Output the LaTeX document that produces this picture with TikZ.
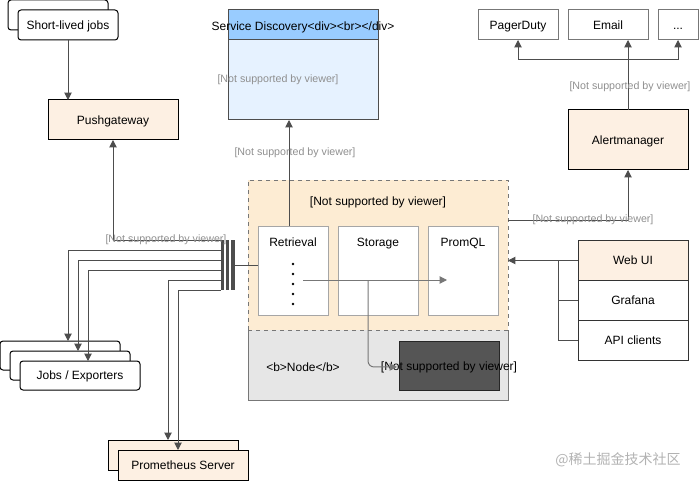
\documentclass[tikz,border=0pt]{standalone}
\usepackage{fontspec}
\setmainfont{Liberation Sans}
\newfontfamily\cjkfont{Noto Sans CJK SC}
\usepackage{tikz}
\usetikzlibrary{arrows.meta,positioning,calc}

\definecolor{peachfill}{HTML}{FDF0E3}
\definecolor{contfill}{HTML}{FDECD3}
\definecolor{nodefill}{HTML}{E6E6E6}
\definecolor{darkfill}{HTML}{555555}
\definecolor{sdhead}{HTML}{99CCFF}
\definecolor{sdbody}{HTML}{E6F2FF}
\definecolor{linegray}{HTML}{4D4D4D}
\definecolor{boxgray}{HTML}{777777}
\definecolor{innergray}{HTML}{A6A6A6}
\definecolor{textgray}{HTML}{8F8F8F}

\begin{document}
\begin{tikzpicture}[
			x=0.75pt, y=-0.75pt,
			every node/.style={inner sep=0pt, outer sep=0pt, font=\fontsize{9}{11}\selectfont},
			boxsize/.style 2 args={minimum width=#1*0.75pt, minimum height=#2*0.75pt},
			box/.style={draw=boxgray, fill=white, line width=0.75pt, text height=7pt, text depth=0.6pt},
			rbox/.style={box, draw=black, rounded corners=2.25pt},
			warm/.style={box, draw=black, fill=peachfill},
			inner/.style={box, draw=innergray, boxsize={#1}{89}},
			barnode/.style={fill=linegray, boxsize={3.5}{50}},
			lbl/.style={text=textgray, font=\fontsize{8}{10}\selectfont},
			arr/.style={draw=linegray, line width=0.75pt, -{Triangle[width=5.5pt,length=5.5pt]}},
			garr/.style={draw=boxgray, line width=0.75pt, -{Triangle[width=5.5pt,length=5.5pt]}}
		]

		\useasboundingbox (0,0) rectangle (699,481);

		\node[rbox, boxsize={100}{30}] (slj1) at (58,15) {};
		\node[rbox, boxsize={100}{30}] (slj2) at (68,25) {Short-lived jobs};
		\node[warm, boxsize={130}{40}] (push) at (113,120) {Pushgateway};

		\node[box, draw=linegray, fill=sdbody, boxsize={150}{110}] (sd) at (303,65) {};
		\node[box, draw=linegray, fill=sdhead, boxsize={150}{30}, anchor=north] (sdtop) at (sd.north) {};
		\node (sdtitle) at ($(sdtop)+(0,2)$) {Service Discovery<div><br></div>};
		\node[lbl] (sdlbl) at ($(sd.center)+(-25,15)$) {[Not supported by viewer]};

		\node[box, boxsize={80}{30}] (pager) at (518,25) {PagerDuty};
		\node[box, boxsize={80}{30}] (email) at (608,25) {Email};
		\node[box, boxsize={40}{30}] (more) at (678,25) {...};
		\node[warm, boxsize={120}{60}] (alert) at (628,140) {Alertmanager};

		\node[draw=none, fill=nodefill, boxsize={260}{70}] (nodebox) at (378,365) {};
		\draw[draw=boxgray, line width=0.75pt] (nodebox.north west) |- (nodebox.south east) -- (nodebox.north east);
		\node[box, draw=boxgray, dashed, fill=contfill, boxsize={260}{150}] (cont) at (378,255) {};
		\node (contlbl) at ($(cont.north)+(0,22)$) {[Not supported by viewer]};
		\node (nodelbl) at (303,367) {<b>Node</b>};
		\node[box, draw=black!85, fill=darkfill, boxsize={100}{49}] (dark) at (449,365.5) {};
		\node (darktxt) at ($(dark)+(0,1.5)$) {[Not supported by viewer]};

		\node[inner=70] (retr) at (293,270.5) {};
		\node[inner=80] (stor) at (378,270.5) {};
		\node[inner=70] (promql) at (463,270.5) {};
		\node[anchor=base] (retrtxt) at ($(retr.north)+(0,20)$) {Retrieval};
		\node[anchor=base] (stortxt) at ($(stor.north)+(0,20)$) {Storage};
		\node[anchor=base] (promtxt) at ($(promql.north)+(0,20)$) {PromQL};
		\foreach \k in {0,...,4}
			\fill (293,264+10*\k) circle (1pt);

		\node[box, draw=black!80, fill=peachfill, boxsize={110}{40}] (webui) at (633,260.5) {Web UI};
		\node[box, draw=black!80, boxsize={110}{40}] (grafana) at (633,300.5) {Grafana};
		\node[box, draw=black!80, boxsize={110}{40}] (api) at (633,340.5) {API clients};

		\node[barnode] (bar1) at (222.5,265) {};
		\node[barnode] (bar2) at (227.5,265) {};
		\node[barnode] (bar3) at (233,265) {};

		\node[rbox, boxsize={120}{29}] (job1) at (60,355.5) {};
		\node[rbox, boxsize={120}{29}] (job2) at (70,365.5) {};
		\node[rbox, boxsize={120}{29}] (job3) at (80,375.5) {Jobs / Exporters};

		\node[warm, boxsize={130}{30}] (prom1) at (173,455) {};
		\node[warm, boxsize={130}{30}] (prom2) at (183,465) {Prometheus Server};

		\draw[arr] (slj2.south) -- (slj2.south |- push.north);
		\draw[arr] (bar1.north west) -| (push.south);
		\node[lbl] (pushlbl) at (166,240) {[Not supported by viewer]};
		\foreach \i in {1,2,3}
			\draw[arr] ($(bar1.north west)+(0,10*\i)$) -| ([xshift=6pt]job\i.north);
		\foreach \i in {1,2}
			\draw[arr] ($(bar1.north west)+(0,30+10*\i)$) -| ([xshift=-3.75pt]prom\i.north);
		\draw[draw=linegray, line width=0.75pt] (bar3.east) -- (bar3.east -| retr.west);

		\draw[arr] ([xshift=-3pt]retr.north) -- ([xshift=-3pt]retr.north |- sd.south);
		\node[lbl] (sdarrlbl) at (295,153) {[Not supported by viewer]};

		\draw[garr] ($(retr.center)+(10,9.5)$) -- ($(promql.center)+(-16,9.5)$);
		\draw[garr, rounded corners=4.5pt] ($(stor.center)+(-10,9.5)$) |- ([xshift=-1.5pt,yshift=-1.1pt]dark.west);

		\draw[arr] ($(cont.east)+(0,-35)$) -| (alert.south);
		\node[lbl] (alertlbl) at (593,220) {[Not supported by viewer]};
		\coordinate (fork) at ($(alert.north)+(0,-50)$);
		\draw[arr] (alert.north) -- (alert.north |- email.south);
		\draw[arr] (fork) -| (pager.south);
		\draw[arr] (fork) -| (more.south);
		\node[lbl] (notifylbl) at (630,87) {[Not supported by viewer]};

		\draw[arr] (webui.west) -- (webui.west -| cont.east);
		\draw[draw=linegray, line width=0.75pt] ($(webui.west)+(-20,0)$) |- (api.west);
		\draw[draw=linegray, line width=0.75pt] ($(grafana.west)+(-20,0)$) -- (grafana.west);

		\node[text=black!30, font=\cjkfont\fontsize{10.5}{12}\selectfont] (wm) at (618,460) {@稀土掘金技术社区};

	\end{tikzpicture}
\end{document}
